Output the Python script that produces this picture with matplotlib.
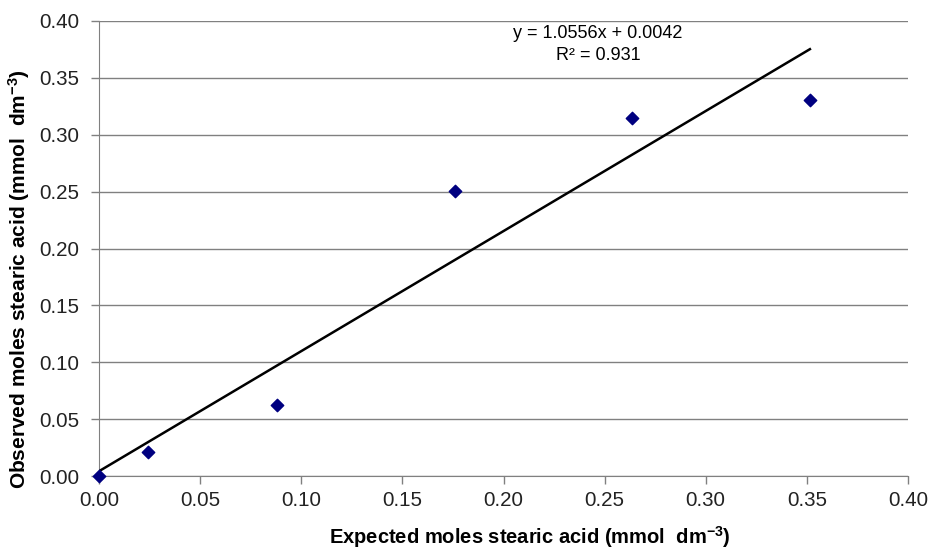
import matplotlib
matplotlib.use("Agg")
import matplotlib.pyplot as plt
import numpy as np

expected = [0.0, 0.0242, 0.0879, 0.176, 0.2635, 0.3515]
observed = [0.0, 0.0208, 0.0627, 0.2505, 0.3145, 0.3305]
slope = 1.0556
intercept = 0.0042
r2 = 0.931
xticks = [0.00, 0.05, 0.10, 0.15, 0.20, 0.25, 0.30, 0.35, 0.40]
yticks = [0.00, 0.05, 0.10, 0.15, 0.20, 0.25, 0.30, 0.35, 0.40]

plt.rcParams['font.family'] = ['Liberation Sans', 'DejaVu Sans']
plt.rcParams['mathtext.fontset'] = 'custom'
plt.rcParams['mathtext.rm'] = 'Liberation Sans'
plt.rcParams['mathtext.bf'] = 'Liberation Sans:bold'
plt.rcParams['mathtext.default'] = 'bf'

fig = plt.figure(figsize=(9.31, 5.5), dpi=100)
ax = fig.add_axes([99/931, 1-476/550, (908-99)/931, (476-21)/550])

ax.set_xlim(0, 0.40)
ax.set_ylim(0, 0.40)
ax.set_xticks(xticks)
ax.set_yticks(yticks)
ax.set_xticklabels([f"{v:.2f}" for v in xticks])
ax.set_yticklabels([f"{v:.2f}" for v in yticks])
ax.yaxis.grid(True, color='#808080', linewidth=1.0)
ax.set_axisbelow(True)

for s in ['top', 'right']:
    ax.spines[s].set_visible(False)
ax.spines['left'].set_color('#808080')
ax.spines['bottom'].set_color('#808080')
ax.tick_params(axis='both', colors='#808080', labelcolor='#222222', labelsize=14.8, length=6, width=1)
ax.tick_params(axis='x', pad=5)
ax.tick_params(axis='y', pad=8)

xs = np.array([min(expected), max(expected)])
ax.plot(xs, slope * xs + intercept, color='black', linewidth=1.8, zorder=3)
ax.scatter(expected, observed, marker='D', s=40, color='#000080', zorder=4, clip_on=False)

ax.text(0.2467, 0.3886, f"y = {slope:.4f}x + {intercept:.4f}", ha='center', va='center', fontsize=13)
ax.text(0.2467, 0.370, f"R² = {r2}", ha='center', va='center', fontsize=13)

ax.set_xlabel("Expected moles stearic acid (mmol  dm$^{-3}$)", fontsize=14.5, fontweight='bold', va='center')
ax.xaxis.set_label_coords((530-99)/809, -(537-476)/455)
ax.set_ylabel("Observed moles stearic acid (mmol  dm$^{-3}$)", fontsize=15, fontweight='bold', va='center')
ax.yaxis.set_label_coords((19-99)/809, (476-279)/455)

fig.savefig("out.png", dpi=100)
